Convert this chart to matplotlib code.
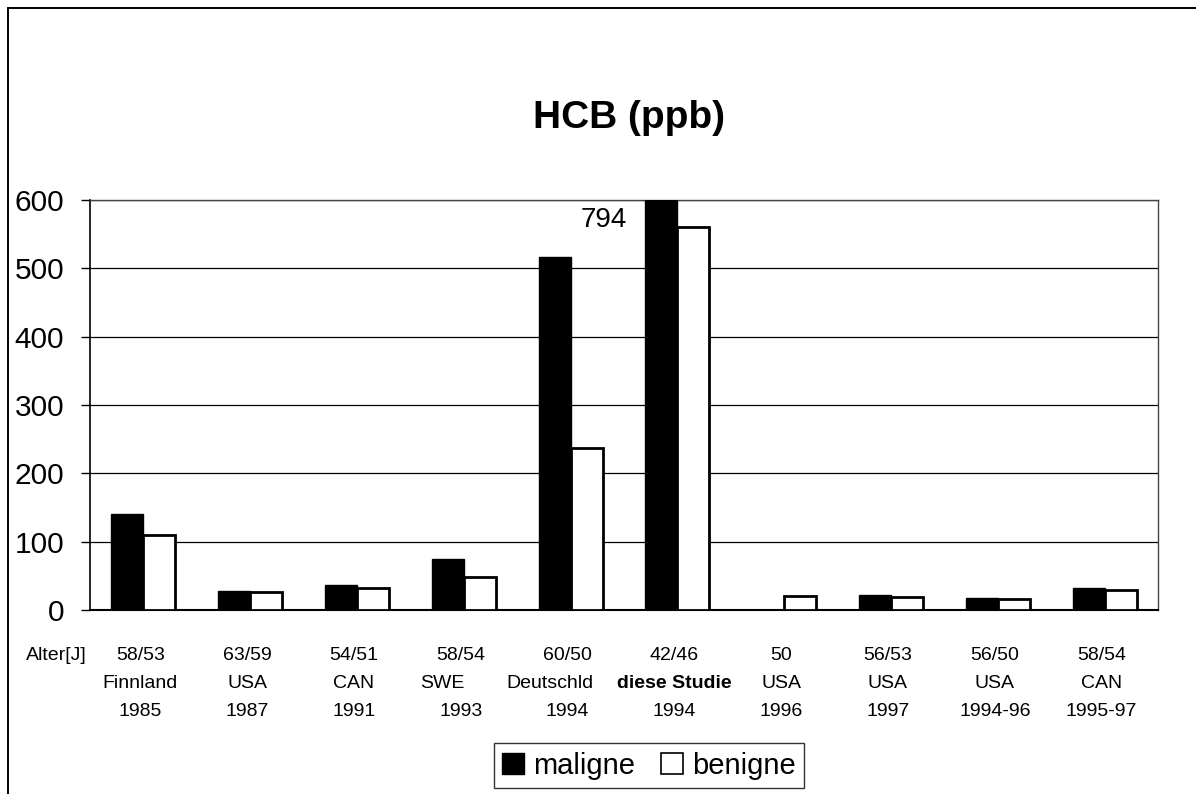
"""
HCB (ppb) in breast fat tissue, maligne vs. benigne, across published studies.
Grouped bar chart, Excel-like look.
"""

import numpy as np
import matplotlib
matplotlib.use("Agg")
import matplotlib.pyplot as plt
from matplotlib.patches import Patch, Rectangle

# ── Data ───────────────────────────────────────────────────────────────────────
ages      = ["58/53", "63/59", "54/51", "58/54", "60/50",
             "42/46", "50", "56/53", "56/50", "58/54"]
countries = ["Finnland", "USA", "CAN", "SWE", "Deutschld",
             "diese Studie", "USA", "USA", "USA", "CAN"]
years     = ["1985", "1987", "1991", "1993", "1994",
             "1994", "1996", "1997", "1994-96", "1995-97"]

maligne = [140, 28, 36, 74, 517, 794, 0, 22, 18, 32]
benigne = [110, 26, 32, 48, 237, 560, 20, 19, 16, 30]

yticks = [0, 100, 200, 300, 400, 500, 600]

# ── Style ──────────────────────────────────────────────────────────────────────
W, H, DPI = 1196, 794, 100
FONT  = ["Liberation Sans", "DejaVu Sans"]
BAR_W = 0.3

plt.rcParams["font.family"] = FONT


def px(x, y):
    """pixel position -> figure fraction"""
    return x / W, 1 - y / H


def main():
    fig = plt.figure(figsize=(W / DPI, H / DPI), dpi=DPI)
    fig.patch.set_facecolor("white")

    # outer chart frame (right/bottom run off the page)
    fig.patches.append(Rectangle(px(8, 830), 1.2, (830 - 8) / H,
                                 transform=fig.transFigure, fill=False,
                                 edgecolor="black", lw=1.4))

    left, top, right, bottom = 90, 200, 1158, 610
    ax = fig.add_axes([left / W, 1 - bottom / H,
                       (right - left) / W, (bottom - top) / H])

    x = np.arange(len(ages))
    ax.bar(x - BAR_W / 2, maligne, BAR_W, color="black",
           edgecolor="black", lw=1.0, zorder=3)
    ax.bar(x + BAR_W / 2, benigne, BAR_W, color="white",
           edgecolor="black", lw=2.0, zorder=3)

    # the study's own value runs off the scale -> write it next to the bar
    i = countries.index("diese Studie")
    ax.text(x[i] - BAR_W / 2 - 0.54, 571, str(maligne[i]),
            ha="center", va="center", fontsize=20)

    ax.set_xlim(-0.5, len(ages) - 0.5)
    ax.set_ylim(0, 600)
    ax.set_yticks(yticks)
    ax.tick_params(axis="y", direction="out", length=6.5, width=1,
                   labelsize=21.5, pad=12)
    ax.set_xticks([])
    ax.yaxis.grid(True, color="black", lw=0.9, zorder=0)
    ax.set_axisbelow(True)

    for side in ("top", "right"):
        ax.spines[side].set_color("#444444")
        ax.spines[side].set_linewidth(1.0)
    ax.spines["left"].set_color("black")
    ax.spines["left"].set_linewidth(1.2)
    ax.spines["bottom"].set_color("black")
    ax.spines["bottom"].set_linewidth(1.5)

    # three-row category labels under each group
    # (some country names sit a little left, padded with spaces in the source)
    nudge = {"SWE": -18, "Deutschld": -18}
    to_px = lambda xi: left + (xi + 0.5) * (right - left) / len(ages)
    rows_y = [656, 684, 712]
    for xi, a, c, yr in zip(x, ages, countries, years):
        cx = to_px(xi) - 3
        for row, (txt, ry) in enumerate(zip((a, c, yr), rows_y)):
            dx = nudge.get(txt, 0) if row == 1 else 0
            bold = txt == "diese Studie"
            fig.text(*px(cx + dx, ry), txt, ha="center", va="center",
                     fontsize=14, fontweight="bold" if bold else "normal")
    fig.text(*px(56, rows_y[0]), "Alter[J]", ha="center", va="center",
             fontsize=14)

    fig.text(*px(629, 128), "HCB (ppb)", ha="center", va="baseline",
             fontsize=28, fontweight="bold")

    handles = [Patch(facecolor="black", edgecolor="black", label="maligne"),
               Patch(facecolor="white", edgecolor="black", lw=1.2,
                     label="benigne")]
    leg = fig.legend(handles=handles, loc="center", ncol=2,
                     bbox_to_anchor=px(649, 765.5), fontsize=21,
                     handlelength=0.75, handleheight=0.75,
                     handletextpad=0.3, columnspacing=0.9,
                     borderpad=0.3, frameon=True, fancybox=False)
    leg.get_frame().set_edgecolor("black")
    leg.get_frame().set_linewidth(1.0)

    fig.savefig("out.png", dpi=DPI)
    plt.close(fig)


if __name__ == "__main__":
    main()
